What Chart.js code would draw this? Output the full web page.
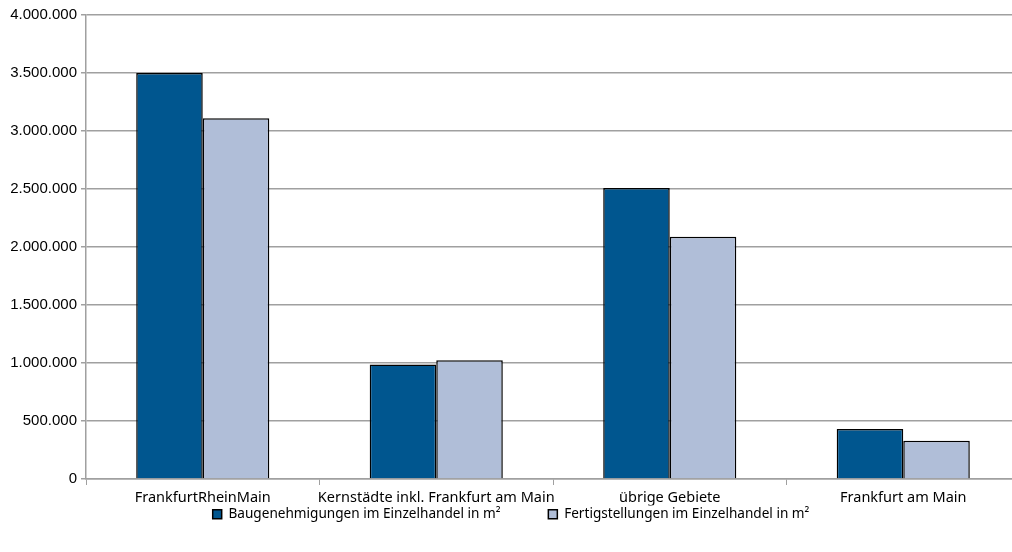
<!DOCTYPE html>
<html>
<head>
<meta charset="utf-8">
<script src="https://cdn.jsdelivr.net/npm/chart.js@4/dist/chart.umd.min.js"></script>
<style>
  html, body { margin: 0; padding: 0; background: #fff; overflow: hidden; }
  #wrap { position: relative; width: 1020px; height: 552px; }
</style>
</head>
<body>
<div id="wrap"><canvas id="chart"></canvas></div>
<script>
// Data
const categories = ['FrankfurtRheinMain', 'Kernstädte inkl. Frankfurt am Main', 'übrige Gebiete', 'Frankfurt am Main'];
const baugenehmigungen = [3500000, 988000, 2508000, 430000];
const fertigstellungen = [3110000, 1024000, 2089000, 329000];
const seriesLabels = ['Baugenehmigungen im Einzelhandel in m²', 'Fertigstellungen im Einzelhandel in m²'];

const formatDE = (v) => String(v).replace(/\B(?=(\d{3})+(?!\d))/g, '.');

const ctx = document.getElementById('chart').getContext('2d');
new Chart(ctx, {
    type: 'bar',
    data: {
        labels: categories,
        datasets: [
            { label: seriesLabels[0], data: baugenehmigungen, backgroundColor: '#00568f', borderColor: '#000', borderWidth: 1.5, borderSkipped: 'bottom' },
            { label: seriesLabels[1], data: fertigstellungen, backgroundColor: '#b0bed8', borderColor: '#000', borderWidth: 1.5, borderSkipped: 'bottom' }
        ]
    },
    options: {
        responsive: true,
        maintainAspectRatio: false,
        animation: false,
        layout: { padding: { top: 15, left: 2, right: 0, bottom: 21 } },
        datasets: { bar: { categoryPercentage: 0.57, barPercentage: 1 } },
        plugins: {
            legend: {
                position: 'bottom',
                labels: {
                    boxWidth: 9, boxHeight: 9, padding: 2,
                    color: '#000',
                    font: { family: 'Noto Sans', size: 13.6 },
                    // wider gap between the two entries
                    generateLabels: (chart) => {
                        const items = Chart.defaults.plugins.legend.labels.generateLabels(chart);
                        items[0].text = items[0].text + '             ';
                        return items;
                    }
                }
            },
            tooltip: { enabled: false }
        },
        scales: {
            x: {
                afterFit: (axis) => { axis.height -= 5; }, // pull legend closer to the labels
                grid: { offset: true, drawOnChartArea: false, drawTicks: true, tickLength: 6, color: '#a0a0a0' },
                border: { color: '#a0a0a0', width: 1.5 },
                ticks: { color: '#000', padding: 4, autoSkip: false, maxRotation: 0, font: { family: 'Noto Sans', size: 14.5 } }
            },
            y: {
                min: 0, max: 4000000,
                afterFit: (axis) => { axis.width = 84; },
                grid: { color: '#a0a0a0', lineWidth: 1.5, tickLength: 5 },
                border: { color: '#a0a0a0', width: 1.5 },
                ticks: { stepSize: 500000, color: '#000', padding: 4, callback: formatDE, font: { family: 'Liberation Sans', size: 15 } }
            }
        }
    }
});
</script>
</body>
</html>
